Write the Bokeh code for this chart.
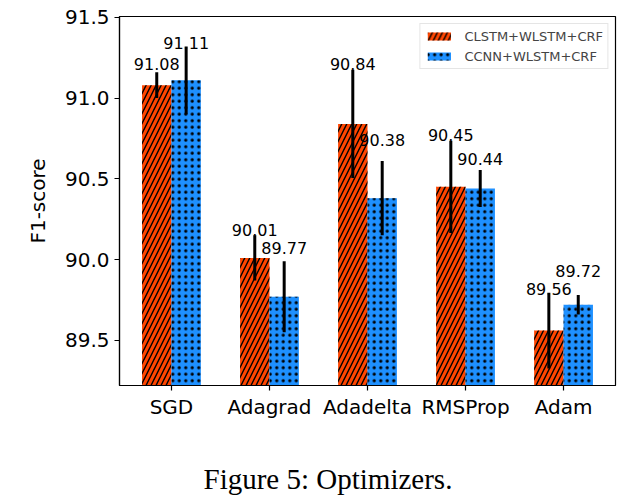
from bokeh.plotting import figure
from bokeh.models import ColumnDataSource, Range1d, FixedTicker, PrintfTickFormatter, Label
from bokeh.layouts import column
from bokeh.core.properties import value
from bokeh.embed import file_html
from bokeh.resources import INLINE
import numpy as np

categories = ["SGD", "Adagrad", "Adadelta", "RMSProp", "Adam"]
series_names = ["CLSTM+WLSTM+CRF", "CCNN+WLSTM+CRF"]
clstm_values = [91.08, 90.01, 90.84, 90.45, 89.56]
clstm_errors = [0.08, 0.14, 0.335, 0.285, 0.235]
clstm_label_y = [91.21, 90.18, 91.21, 90.77, 89.82]
ccnn_values = [91.11, 89.77, 90.38, 90.44, 89.72]
ccnn_errors = [0.21, 0.22, 0.23, 0.115, 0.06]
ccnn_label_y = [91.34, 90.07, 90.74, 90.62, 89.93]
y_ticks = [89.5, 90.0, 90.5, 91.0, 91.5]
caption = "Figure 5: Optimizers."

FONT = "DejaVu Sans"
BAR_W = 0.3

p = figure(width=630, height=458,
           x_range=Range1d(-0.53, 4.53), y_range=Range1d(89.22, 91.505),
           output_backend="svg", toolbar_location=None,
           min_border_left=119, min_border_right=15,
           min_border_top=16, min_border_bottom=73)
p.frame_align = False

idx = np.arange(len(categories))
specs = [
    (clstm_values, clstm_errors, clstm_label_y, -BAR_W / 2, "#FF4500", "right_diagonal_line", 10, 1.4, series_names[0]),
    (ccnn_values, ccnn_errors, ccnn_label_y, BAR_W / 2, "#1E90FF", "dot", 6.5, 2.2, series_names[1]),
]

for vals, errs, ly, off, color, hatch, hscale, hweight, name in specs:
    vals = np.array(vals)
    errs = np.array(errs)
    src = ColumnDataSource(dict(
        x=idx + off, top=vals, lo=vals - errs, hi=vals + errs,
        ly=ly, label=["%.2f" % v for v in vals]))
    p.vbar(x="x", top="top", bottom=89.0, width=BAR_W, source=src,
           fill_color=color, line_color=None,
           hatch_pattern=hatch, hatch_color="black", hatch_scale=hscale,
           hatch_weight=hweight, legend_label=name)
    p.segment(x0="x", x1="x", y0="lo", y1="hi", source=src,
              line_color="black", line_width=3)
    p.text(x="x", y="ly", text="label", source=src, text_align="center",
           text_baseline="alphabetic", text_font=value(FONT),
           text_font_size="16px", text_color="black")

p.xgrid.visible = False
p.ygrid.visible = False
p.outline_line_color = "black"
p.outline_line_width = 1.2
p.outline_line_alpha = 1.0

p.xaxis.ticker = FixedTicker(ticks=list(idx))
p.xaxis.major_label_overrides = {int(i): c for i, c in zip(idx, categories)}
p.yaxis.ticker = FixedTicker(ticks=y_ticks)
p.yaxis.formatter = PrintfTickFormatter(format="%.1f")
p.yaxis.axis_label = "F1-score"

for ax in (p.xaxis[0], p.yaxis[0]):
    ax.axis_line_color = "black"
    ax.axis_line_width = 1.2
    ax.major_tick_line_color = "black"
    ax.major_tick_line_width = 1.2
    ax.major_tick_out = 5
    ax.major_tick_in = 0
    ax.minor_tick_line_color = None
    ax.major_label_text_font = FONT
    ax.major_label_text_color = "black"
    ax.major_label_text_font_size = "20px"
    ax.axis_label_text_font = FONT
    ax.axis_label_text_font_size = "20px"
    ax.axis_label_text_font_style = "normal"
    ax.axis_label_text_color = "black"
p.xaxis.major_label_standoff = 4
p.yaxis.major_label_standoff = 5
p.yaxis.axis_label_standoff = 12

p.legend.location = "top_right"
p.legend.margin = 7
p.legend.padding = 4
p.legend.spacing = 4
p.legend.label_height = 16
p.legend.glyph_height = 10
p.legend.glyph_width = 29
p.legend.label_standoff = 11
p.legend.label_text_font = FONT
p.legend.label_text_font_size = "13px"
p.legend.border_line_color = "#cccccc"
p.legend.border_line_width = 1
p.legend.background_fill_alpha = 0.8

# caption strip below the chart
c = figure(width=630, height=44, x_range=Range1d(0, 1), y_range=Range1d(0, 1),
           x_axis_type=None, y_axis_type=None,
           output_backend="svg", toolbar_location=None,
           min_border_left=0, min_border_right=0,
           min_border_top=0, min_border_bottom=0)
c.frame_align = False
c.outline_line_color = None
c.xgrid.visible = False
c.ygrid.visible = False
cap = Label(x=203, y=24, x_units="screen", y_units="screen", text=caption,
            text_align="left", text_baseline="alphabetic",
            text_font="Liberation Serif", text_font_size="29px",
            text_color="black")
c.add_layout(cap)

layout = column(p, c, spacing=0)
open("out.html", "w").write(file_html(layout, INLINE))
